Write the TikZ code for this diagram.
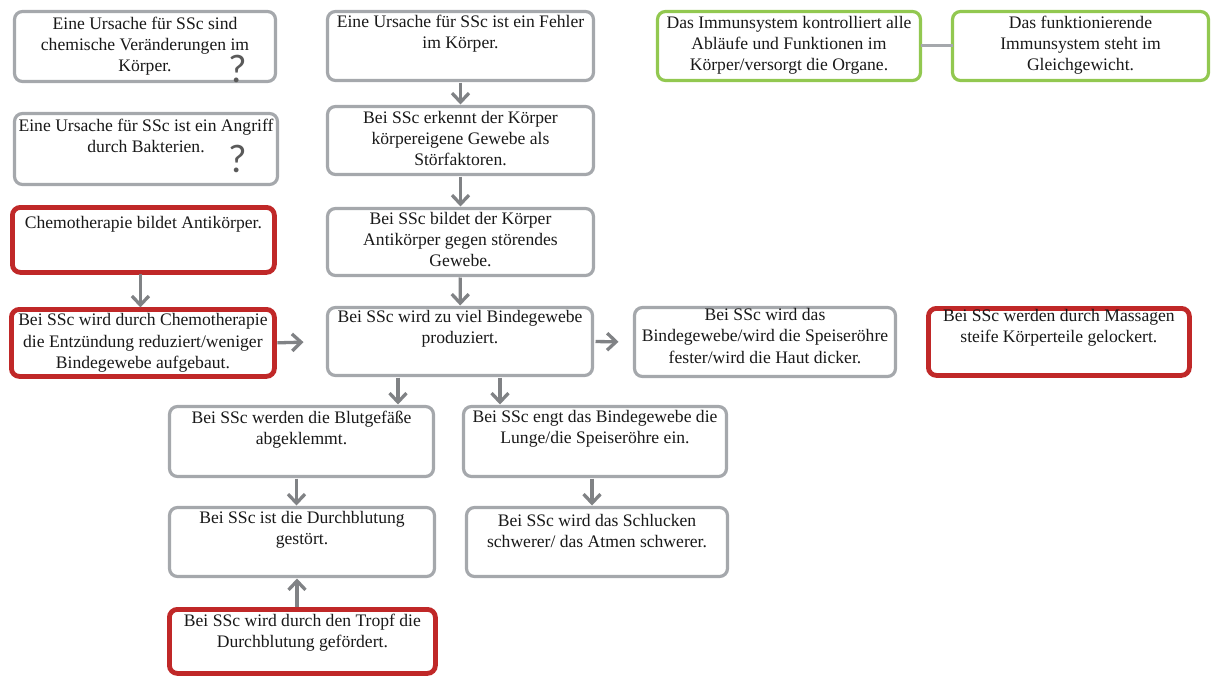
\documentclass[tikz,border=0pt]{standalone}
\usepackage{fontspec}
\setmainfont{Liberation Serif}
\newfontfamily\qfont{Carlito}
\usetikzlibrary{arrows.meta}
\definecolor{boxgray}{RGB}{165,168,172}
\definecolor{arrgray}{RGB}{128,130,133}
\definecolor{boxred}{RGB}{192,40,40}
\definecolor{boxgreen}{RGB}{146,200,80}
\definecolor{txtcol}{RGB}{25,25,25}
\definecolor{qcol}{RGB}{90,90,90}
\begin{document}
\begin{tikzpicture}[x=1pt,y=-1pt,
  base/.style={draw, rounded corners=8pt, fill=white, anchor=north west,
    inner sep=0pt, outer sep=0pt},
  gbox/.style={base, draw=boxgray, line width=3.2pt},
  rbox/.style={base, draw=boxred, line width=4.8pt},
  nbox/.style={base, draw=boxgreen, line width=3.2pt},
  % the strut fixes the top of each text block 14.9pt above its first baseline
  txt/.style={anchor=north, align=center, inner sep=0pt, text=txtcol,
    font=\fontsize{17.6}{21.3}\selectfont, execute at begin node={\strut}},
  qm/.style={anchor=base, text=qcol, font=\qfont\fontsize{40}{40}\selectfont, inner sep=0pt},
  arr/.style={draw=arrgray, line width=3.3pt,
    -{Straight Barb[length=9pt,width=17pt]}, shorten <=2pt, shorten >=2pt},
  link/.style={draw=boxgray, line width=3pt}]
\useasboundingbox (0,0) rectangle (1214,677);

% left column
\node[gbox, minimum width=261pt, minimum height=70pt] (b1) at (14.5,11.5) {};
\node[txt] (b1t) at ([yshift=-5.1pt]b1.north) {Eine Ursache für SSc sind\\chemische Veränderungen im\\Körper.};
\node[qm] (q1) at (238,82) {?};
\node[gbox, minimum width=263pt, minimum height=71pt] (b2) at (14.5,113.5) {};
\node[txt] (b2t) at ([yshift=-5.1pt]b2.north) {Eine Ursache für SSc ist ein Angriff\\durch Bakterien.};
\node[qm] (q2) at (238,172) {?};
\node[rbox, minimum width=262pt, minimum height=65pt] (b3) at (12.4,207.4) {};
\node[txt] (b3t) at ([yshift=-6.1pt]b3.north) {Chemotherapie bildet Antikörper.};
\node[rbox, minimum width=263pt, minimum height=67pt] (b4) at (11.4,309.4) {};
\node[txt] (b4t) at ([yshift=-4.1pt]b4.north) {Bei SSc wird durch Chemotherapie\\die Entzündung reduziert/weniger\\Bindegewebe aufgebaut.};

% centre column
\node[gbox, minimum width=266pt, minimum height=69pt] (c1) at (327.5,11.5) {};
\node[txt] (c1t) at ([yshift=-3.1pt]c1.north) {Eine Ursache für SSc ist ein Fehler\\im Körper.};
\node[gbox, minimum width=266pt, minimum height=68pt] (c2) at (327.5,106.5) {};
\node[txt] (c2t) at ([yshift=-4.1pt]c2.north) {Bei SSc erkennt der Körper\\körpereigene Gewebe als\\Störfaktoren.};
\node[gbox, minimum width=266pt, minimum height=67pt] (c3) at (327.5,208.5) {};
\node[txt] (c3t) at ([yshift=-3.1pt]c3.north) {Bei SSc bildet der Körper\\Antikörper gegen störendes\\Gewebe.};
\node[gbox, minimum width=265pt, minimum height=68pt] (c4) at (327.5,307.5) {};
\node[txt] (c4t) at ([yshift=-2.1pt]c4.north) {Bei SSc wird zu viel Bindegewebe\\produziert.};

% right side
\node[gbox, minimum width=261pt, minimum height=69pt] (r1) at (634.5,307.5) {};
\node[txt] (r1t) at ([yshift=-0.5pt]r1.north) {Bei SSc wird das\\Bindegewebe/wird die Speiseröhre\\fester/wird die Haut dicker.};
\node[rbox, minimum width=261pt, minimum height=67pt] (r2) at (928.4,308.4) {};
\node[txt] (r2t) at ([yshift=-0.5pt]r2.north) {Bei SSc werden durch Massagen\\steife Körperteile gelockert.};

% immune system boxes
\node[nbox, minimum width=263pt, minimum height=69pt] (g1) at (657.5,11.5) {};
\node[txt] (g1t) at ([yshift=-4.1pt]g1.north) {Das Immunsystem kontrolliert alle\\Abläufe und Funktionen im\\Körper/versorgt die Organe.};
\node[nbox, minimum width=256pt, minimum height=69pt] (g2) at (952.5,11.5) {};
\node[txt] (g2t) at ([yshift=-4.1pt]g2.north) {Das funktionierende\\Immunsystem steht im\\Gleichgewicht.};

% lower rows
\node[gbox, minimum width=264pt, minimum height=70pt] (d1) at (169.5,406.5) {};
\node[txt] (d1t) at ([yshift=-4.1pt]d1.north) {Bei SSc werden die Blutgefäße\\abgeklemmt.};
\node[gbox, minimum width=263pt, minimum height=70pt] (d2) at (463.5,406.5) {};
\node[txt] (d2t) at ([yshift=-3.1pt]d2.north) {Bei SSc engt das Bindegewebe die\\Lunge/die Speiseröhre ein.};
\node[gbox, minimum width=265pt, minimum height=69pt] (e1) at (169.5,507.5) {};
\node[txt] (e1t) at ([yshift=-3.1pt]e1.north) {Bei SSc ist die Durchblutung\\gestört.};
\node[gbox, minimum width=261pt, minimum height=69pt] (e2) at (466.5,507.5) {};
\node[txt] (e2t) at ([yshift=-6.1pt]e2.north) {Bei SSc wird das Schlucken\\schwerer/ das Atmen schwerer.};
\node[rbox, minimum width=266pt, minimum height=64pt] (f1) at (169.4,609.4) {};
\node[txt] (f1t) at ([yshift=-4.1pt]f1.north) {Bei SSc wird durch den Tropf die\\Durchblutung gefördert.};

% connectors
\draw[link] (g1.east) -- (g2.west);
\draw[arr] (c1) -- (c2);
\draw[arr] (c2) -- (c3);
\draw[arr] (c3) -- (c4);
\draw[arr] ([xshift=-3pt]b3.south) -- ([xshift=-3pt]b3.south |- b4.north);
\draw[arr, shorten <=3pt, shorten >=24pt] (b4.east) -- (c4.west);
\draw[arr, shorten <=3pt, shorten >=16pt] (c4.east) -- (r1.west);
\draw[arr] ([xshift=-62pt]c4.south) -- ([xshift=-62pt]c4.south |- d1.north);
\draw[arr] ([xshift=40pt]c4.south) -- ([xshift=40pt]c4.south |- d2.north);
\draw[arr] ([xshift=-5pt]d1.south) -- ([xshift=-5pt]d1.south |- e1.north);
\draw[arr] ([xshift=-3pt]d2.south) -- ([xshift=-3pt]d2.south |- e2.north);
\draw[arr] ([xshift=-5pt]e1.south |- f1.north) -- ([xshift=-5pt]e1.south);
\end{tikzpicture}
\end{document}
